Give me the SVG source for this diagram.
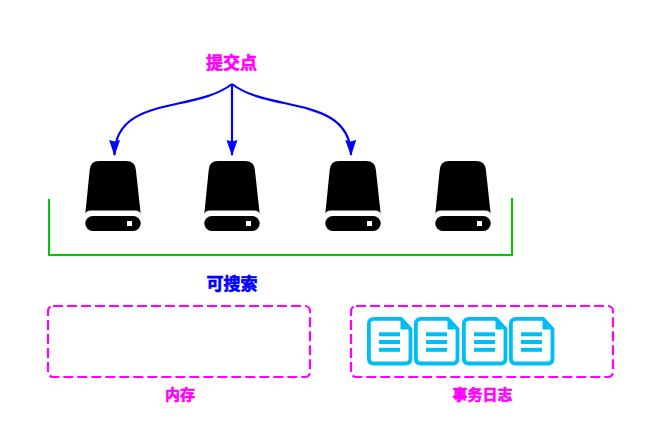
<svg xmlns="http://www.w3.org/2000/svg" width="645" height="440" viewBox="0 0 645 440">
<style>
text{font-family:"Noto Sans CJK SC","Liberation Sans",sans-serif;font-weight:700;text-anchor:middle;stroke-width:.6}
.m{fill:#f0f;stroke:#f0f}
.b{fill:#00f;stroke:#00f}
.box{fill:none;stroke:#f0f;stroke-width:2.200;stroke-dasharray:10 4}
.conn{fill:none;stroke:#00f;stroke-width:2.200}
.line{fill:#00bef2}
</style>
<defs>
<marker id="arrow" markerUnits="userSpaceOnUse" markerWidth="16" markerHeight="12" viewBox="0 0 16 12" refX="15" refY="6" orient="auto">
<path d="M0 .5L16 6L0 11.500L1.500 6Z" fill="#00f"/>
</marker>
<g id="disk">
<path d="M4.700 9Q5.300 0 14 0H41Q50.300 0 50.900 9L55.700 53Q55 49.500 50 49.500H6Q1 49.500 .3 53Z" fill="#000"/>
<rect x=".3" y="55" width="55.400" height="15" rx="7.500" fill="#000"/>
<rect x="42" y="60" width="5" height="5" fill="#fff"/>
</g>
<g id="doc">
<path d="M34 1.900H7Q1.900 1.900 1.900 7V41.500Q1.900 46.500 7 46.500H38.500Q43.500 46.500 43.500 41.500V12Z" fill="#fff" stroke="#00bef2" stroke-width="3.800" stroke-linejoin="round"/>
<path d="M34 1.700V12H43.700Z" fill="#00bef2" stroke="#00bef2"/>
<rect class="line" x="12" y="15.300" width="21" height="4"/>
<rect class="line" x="12" y="23" width="21" height="4"/>
<rect class="line" x="12" y="30.800" width="21" height="4"/>
</g>
</defs>
<g id="connectors">
<path class="conn" marker-end="url(#arrow)" d="M232 84C195 113 115 95 114.500 155"/>
<path class="conn" marker-end="url(#arrow)" d="M232 84V155"/>
<path class="conn" marker-end="url(#arrow)" d="M232 84C269 113 350 95 351 155"/>
<path id="bracket" d="M49 199V255H512V198" fill="none" stroke="#00c800" stroke-width="2"/>
</g>
<g id="commit-label"><text class="m" x="231.500" y="69" font-size="17">提交点</text></g>
<g id="disk1"><use href="#disk" x="85" y="161"/></g>
<g id="disk2"><use href="#disk" x="204" y="161"/></g>
<g id="disk3"><use href="#disk" x="325" y="161"/></g>
<g id="disk4"><use href="#disk" x="435" y="161"/></g>
<g id="searchable-label"><text class="b" x="232" y="290" font-size="17">可搜索</text></g>
<g id="memory"><rect class="box" x="48" y="306" width="262" height="71" rx="5"/><text class="m" x="180" y="400" font-size="15">内存</text></g>
<g id="translog"><rect class="box" x="351" y="306" width="262" height="71" rx="5"/>
<use href="#doc" x="367" y="317"/><use href="#doc" x="414" y="317"/><use href="#doc" x="462" y="317"/><use href="#doc" x="509" y="317"/>
<text class="m" x="482.500" y="400" font-size="15">事务日志</text></g>
</svg>
